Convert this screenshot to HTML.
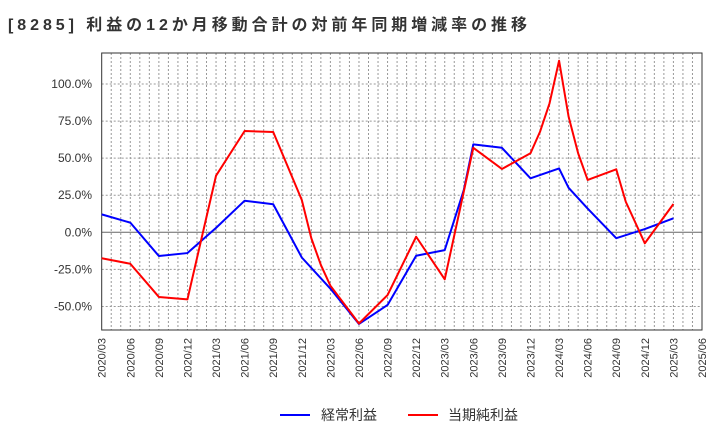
<!DOCTYPE html>
<html><head><meta charset="utf-8"><style>
body{margin:0;background:#fff;font-family:"Liberation Sans","Noto Sans CJK JP",sans-serif}
</style></head><body>
<svg id="c" width="720" height="440" xmlns="http://www.w3.org/2000/svg" font-family="Liberation Sans, Noto Sans CJK JP, sans-serif">
<text x="8" y="30" font-size="16" font-weight="bold" fill="#333" textLength="519" lengthAdjust="spacing">[8285]  利益の12か月移動合計の対前年同期増減率の推移</text>
<g id="grid"></g><g id="axes"></g><g id="series"></g>
<g>
<line x1="280" y1="415" x2="310" y2="415" stroke="#0000ff" stroke-width="2"/>
<text x="321" y="420" font-size="14" fill="#333">経常利益</text>
<line x1="408" y1="415" x2="438" y2="415" stroke="#ff0000" stroke-width="2"/>
<text x="448" y="420" font-size="14" fill="#333">当期純利益</text>
</g>
</svg>
<script>
const xTickLabels=["2020/03","2020/06","2020/09","2020/12","2021/03","2021/06","2021/09","2021/12","2022/03","2022/06","2022/09","2022/12","2023/03","2023/06","2023/09","2023/12","2024/03","2024/06","2024/09","2024/12","2025/03","2025/06"];
const yTicks=[-50,-25,0,25,50,75,100];
const blueMonths=[0,3,6,9,12,15,18,21,24,27,30,33,36,38,39,42,45,48,49,51,54,57,60];
const blueValues=[12.1,6.5,-16,-14,3,21.3,18.9,-17,-38,-61.8,-49,-15.8,-12,28.5,59.3,57,36.4,43.1,30,16,-4,2.2,9.4];
const redMonths=[0,3,6,9,12,15,18,21,22,23,24,27,30,33,36,39,42,45,46,47,48,49,50,51,54,55,57,60];
const redValues=[-17.5,-21.2,-43.6,-45.2,38.2,68.3,67.6,21.8,-4,-22,-36,-61.5,-42.3,-3,-31.7,57,42.7,53.3,67.8,87,115.7,78,53.3,35.3,42.5,20.6,-7.4,19.1];
const L=101.7,R=702,T=53,B=330;
const xs=m=>L+m*(R-L)/63;
const ys=v=>232.3-v*148.3/100;
const NS="http://www.w3.org/2000/svg";
function mk(p,t,a){const e=document.createElementNS(NS,t);for(const k in a)e.setAttribute(k,a[k]);p.appendChild(e);return e;}
const grid=document.getElementById('grid'),axes=document.getElementById('axes'),ser=document.getElementById('series');
for(let m=1;m<63;m++){const l=mk(grid,'line',{x1:xs(m),x2:xs(m),y1:T,y2:B,stroke:'#999','stroke-dasharray':'2,2','stroke-width':1});

}
yTicks.forEach(v=>{const y=ys(v);const l=mk(grid,'line',{x1:L,x2:R,y1:y,y2:y,stroke:v===0?'#666':'#999','stroke-dasharray':v===0?'':'2,2','stroke-width':1});


const t=mk(axes,'text',{x:92,y:y+4,'text-anchor':'end','font-size':12,fill:'#333'});t.textContent=v.toFixed(1)+'%';

});
const fr=mk(axes,'rect',{x:L,y:T,width:R-L,height:B-T,fill:'none',stroke:'#333','stroke-width':1});


xTickLabels.forEach((s,i)=>{const x=xs(i*3);const t=mk(axes,'text',{x:0,y:0,'text-anchor':'end','font-size':11,fill:'#333',transform:`translate(${x+4},338) rotate(-90)`});t.textContent=s;

});
function line(ms,vs,col,name){const p=mk(ser,'polyline',{points:ms.map((m,i)=>xs(m)+','+ys(vs[i])).join(' '),fill:'none',stroke:col,'stroke-width':2,'stroke-linejoin':'round'});

}
line(blueMonths,blueValues,'#0000ff','keijo-line');
line(redMonths,redValues,'#ff0000','junri-line');
</script>
</body></html>
